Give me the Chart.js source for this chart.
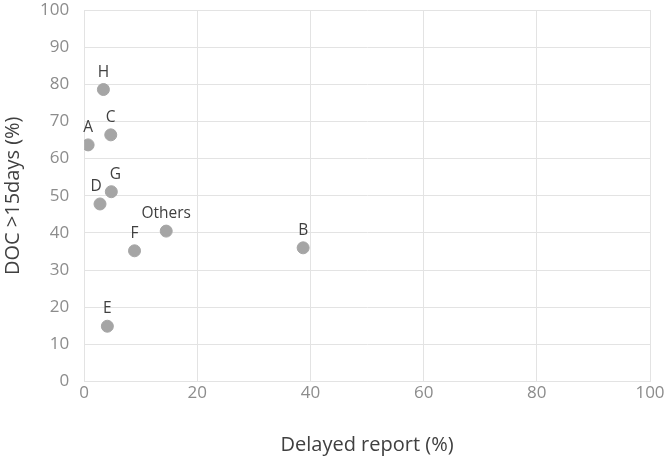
<!DOCTYPE html>
<html>
    <head>
        <title>Delayed report vs DOC</title>
        <meta charset="utf-8" />
        <script src="https://cdn.jsdelivr.net/npm/chart.js@4.4.0/dist/chart.umd.min.js"></script>
        <style>
            * {
                margin: 0;
                padding: 0;
                box-sizing: border-box;
            }
            body {
                background-color: #ffffff;
            }
            #wrap {
                width: 667px;
                height: 457px;
            }
        </style>
    </head>
    <body>

        <div id="wrap">
            <canvas id="myChart"></canvas>
        </div>

        <script>
            const names = ['A', 'H', 'C', 'G', 'D', 'Others', 'F', 'E', 'B'];
            const delayed = [0.7, 3.4, 4.7, 4.8, 2.8, 14.5, 8.9, 4.1, 38.7];
            const docOver15 = [63.7, 78.6, 66.4, 51.1, 47.8, 40.5, 35.2, 14.9, 36.0];

            const xTicks = [0, 20, 40, 60, 80, 100];
            const yTicks = [0, 10, 20, 30, 40, 50, 60, 70, 80, 90, 100];

            const points = names.map((n, i) => ({ x: delayed[i], y: docOver15[i] }));

            // small sideways nudges for the crowded labels
            const nudge = { D: -4, G: 4 };

            const pointLabels = {
                id: 'pointLabels',
                afterDatasetsDraw(chart) {
                    const ctx = chart.ctx;
                    const meta = chart.getDatasetMeta(0);
                    ctx.save();
                    ctx.font = '15.5px "Open Sans"';
                    ctx.fillStyle = '#404040';
                    ctx.textAlign = 'center';
                    ctx.textBaseline = 'alphabetic';
                    meta.data.forEach((el, i) => {
                        const dx = nudge[names[i]] || 0;
                        ctx.fillText(names[i], el.x + dx, el.y - 13);
                    });
                    ctx.restore();
                }
            };

            const gridColor = '#e3e3e3';

            const chartConfig = {
                type: 'scatter',
                data: {
                    datasets: [{
                        data: points,
                        backgroundColor: '#a5a5a5',
                        borderColor: '#a5a5a5',
                        pointRadius: 6,
                        pointHoverRadius: 6
                    }]
                },
                options: {
                    responsive: true,
                    maintainAspectRatio: false,
                    animation: false,
                    layout: {
                        padding: { top: 10, right: 17, bottom: 0, left: 1 }
                    },
                    plugins: {
                        legend: { display: false },
                        tooltip: { enabled: false }
                    },
                    scales: {
                        x: {
                            type: 'linear',
                            min: 0,
                            max: 100,
                            afterBuildTicks: axis => {
                                axis.ticks = xTicks.map(v => ({ value: v }));
                            },
                            afterFit: axis => {
                                axis.paddingLeft = 0;
                                axis.paddingRight = 0;
                            },
                            grid: { color: gridColor, drawTicks: false },
                            border: { color: gridColor },
                            ticks: {
                                color: '#8c8c8c',
                                padding: 1,
                                font: { family: '"Open Sans"', size: 17 }
                            },
                            title: {
                                display: true,
                                text: 'Delayed report (%)',
                                color: '#404040',
                                padding: { top: 29, bottom: 0 },
                                font: { family: '"Open Sans"', size: 20 }
                            }
                        },
                        y: {
                            type: 'linear',
                            min: 0,
                            max: 100,
                            afterBuildTicks: axis => {
                                axis.ticks = yTicks.map(v => ({ value: v }));
                            },
                            afterFit: axis => {
                                axis.paddingTop = 0;
                                axis.paddingBottom = 0;
                            },
                            grid: { color: gridColor, drawTicks: false },
                            border: { color: gridColor },
                            ticks: {
                                color: '#8c8c8c',
                                padding: 15,
                                font: { family: '"Open Sans"', size: 17 }
                            },
                            title: {
                                display: true,
                                text: 'DOC >15days (%)',
                                color: '#404040',
                                padding: { top: 0, bottom: 0 },
                                font: { family: '"Open Sans"', size: 20 }
                            }
                        }
                    }
                },
                plugins: [pointLabels]
            };

            new Chart(document.getElementById('myChart'), chartConfig);
        </script>
    </body>
</html>
